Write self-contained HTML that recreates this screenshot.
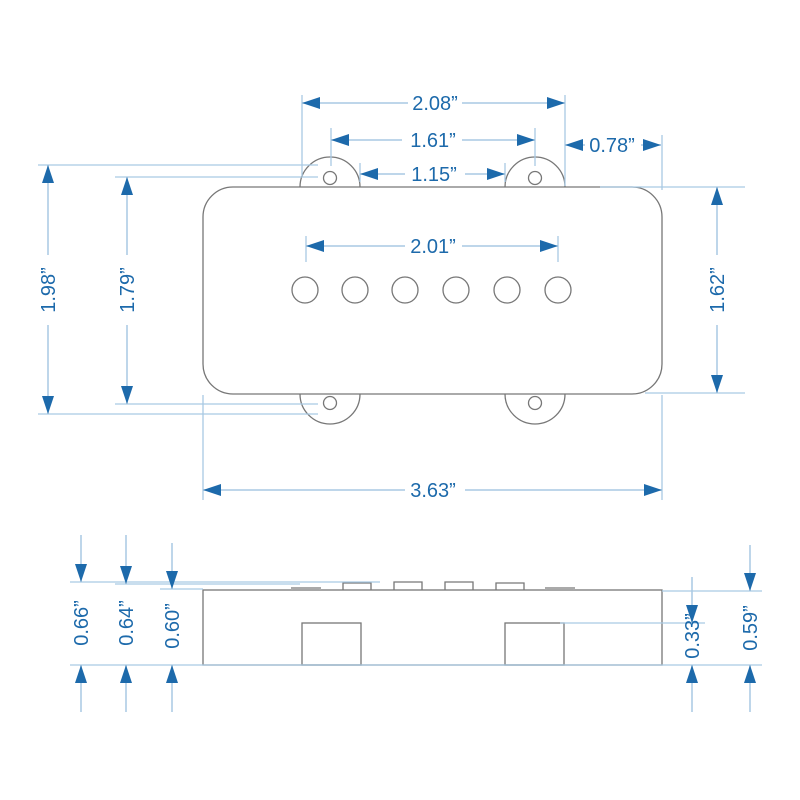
<!DOCTYPE html>
<html><head><style>body{margin:0;background:#fff}svg{display:block}</style></head><body>
<svg width="800" height="800" viewBox="0 0 800 800" xmlns="http://www.w3.org/2000/svg">
<defs>
<marker id="a" viewBox="0 0 18 12" refX="18" refY="6" markerWidth="18" markerHeight="12" markerUnits="userSpaceOnUse" orient="auto"><path d="M0,0 L18,6 L0,12 Z" fill="#1d6aab"/></marker>
</defs>
<g fill="none" stroke="#777" stroke-width="1.3">
<path d="M300,187 A30,30 0 0 1 360,187"/><path d="M505,187 A30,30 0 0 1 565,187"/>
<path d="M300,394 A30,30 0 0 0 360,394"/><path d="M505,394 A30,30 0 0 0 565,394"/>
<circle cx="330" cy="178" r="6.5"/><circle cx="535" cy="178" r="6.5"/>
<circle cx="330" cy="403" r="6.5"/><circle cx="535" cy="403" r="6.5"/>
<rect x="203" y="187" width="459" height="207" rx="30" fill="#fff"/>
<circle cx="305" cy="290" r="13"/><circle cx="355" cy="290" r="13"/><circle cx="405" cy="290" r="13"/>
<circle cx="456" cy="290" r="13"/><circle cx="507" cy="290" r="13"/><circle cx="558" cy="290" r="13"/>
<rect x="203" y="590" width="459" height="75"/>
<rect x="302" y="623" width="59" height="42"/><rect x="505" y="623" width="59" height="42"/>
<path d="M343,590V583H371V590M394,590V582H422V590M445,590V582H473V590M496,590V583H524V590"/>
<path d="M292,590V588H320V590M546,590V588H574V590" stroke="#aaa" stroke-width="2"/>
</g>
<g stroke="#a9c9e3" stroke-width="1.3" fill="none">
<path d="M302,95V176M565,95V186M331,128V166M535,128V166M360,163V182M505,163V182M662,135V190"/>
<path d="M306,236V262M558,236V262M203,395V500M662,395V500"/>
<path d="M38,165H318M38,414H318M115,177H318M115,404H318M600,187H745M645,393H745"/>
<path d="M70,582H380M115,584H300M160,589H203M560,623H705M662,591H762M70,665H762"/>
</g>
<g stroke="#a9c9e3" stroke-width="1.5" fill="none" marker-end="url(#a)">
<path d="M408,103H302"/><path d="M462,103H565"/>
<path d="M402,140H331"/><path d="M462,140H535"/>
<path d="M405,174H360"/><path d="M465,174H505"/>
<path d="M405,246H306"/><path d="M462,246H558"/>
<path d="M405,490H203"/><path d="M465,490H662"/>
<path d="M48,255V165"/><path d="M48,325V414"/>
<path d="M127,255V177"/><path d="M127,325V404"/>
<path d="M717,255V187"/><path d="M717,325V393"/>
<path d="M585,145H565"/><path d="M641,145H661"/>
<path d="M81,535V582"/><path d="M81,712V665"/>
<path d="M126,535V584"/><path d="M126,712V665"/>
<path d="M172,543V589"/><path d="M172,712V665"/>
<path d="M692,577V623"/><path d="M692,712V665"/>
<path d="M750,545V591"/><path d="M750,712V665"/>
</g>
<g fill="#1d6aab" font-family="Liberation Sans, sans-serif" font-size="20" text-anchor="middle">
<text x="435" y="110">2.08”</text>
<text x="433" y="147">1.61”</text>
<text x="434" y="181">1.15”</text>
<text x="612" y="152">0.78”</text>
<text x="433" y="253">2.01”</text>
<text x="433" y="497">3.63”</text>
<text transform="translate(55,290) rotate(-90)">1.98”</text>
<text transform="translate(134,290) rotate(-90)">1.79”</text>
<text transform="translate(724,290) rotate(-90)">1.62”</text>
<text transform="translate(88,623) rotate(-90)">0.66”</text>
<text transform="translate(133,623) rotate(-90)">0.64”</text>
<text transform="translate(179,626) rotate(-90)">0.60”</text>
<text transform="translate(699,636) rotate(-90)">0.33”</text>
<text transform="translate(757,628) rotate(-90)">0.59”</text>
</g>
</svg>
</body></html>
